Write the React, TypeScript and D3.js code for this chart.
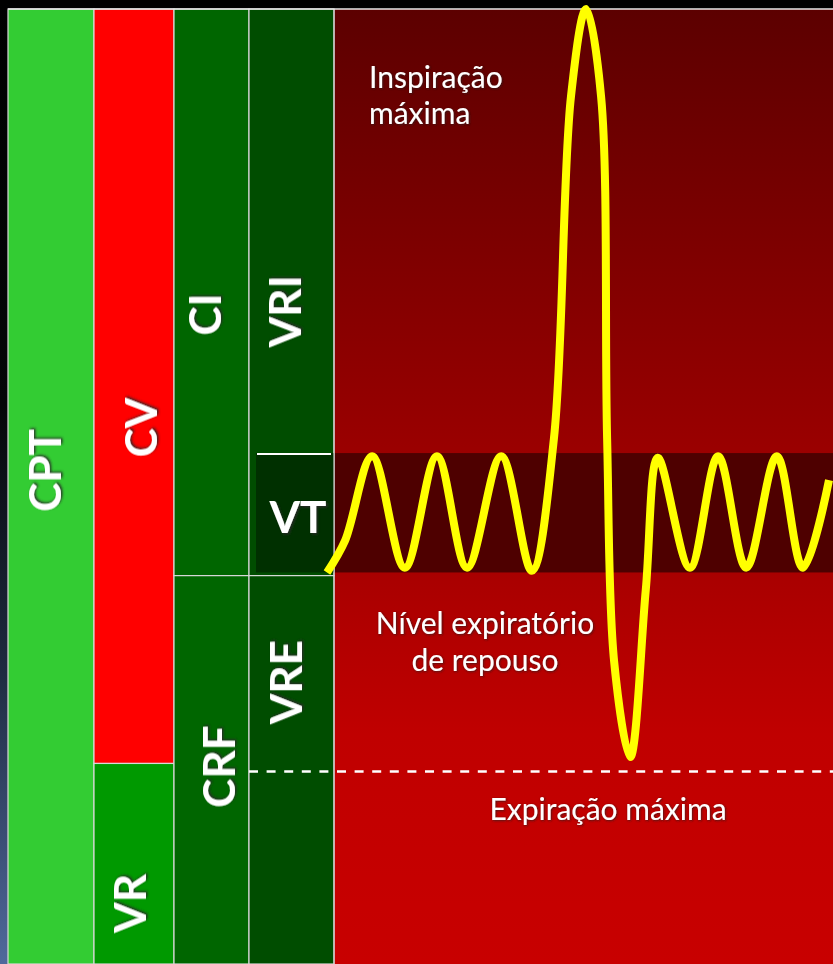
import * as d3 from 'd3';

// ---- data: lung volumes (litres) and the spirogram trace ----
const totalCapacity = 6.0; // CPT
const residualVolume = 1.26; // VR
const frcLevel = 2.44; // CRF
const expMaxLevel = 1.21; // dashed line, "Expiração máxima"
const tidalLow = 2.46;
const tidalHigh = 3.21;

const compartmentLabels = ['CPT', 'CV', 'VR', 'CI', 'CRF', 'VRI', 'VRE'];
const compartmentColumn = [0, 1, 1, 2, 2, 3, 3];
const compartmentFrom = [0, residualVolume, 0, frcLevel, 0, frcLevel, 0];
const compartmentTo = [totalCapacity, totalCapacity, residualVolume, totalCapacity, frcLevel, totalCapacity, frcLevel];

// time (arbitrary units 0..100) and volume (L)
const traceTime = [0, 3.6, 9.0, 15.5, 21.9, 27.9, 34.7, 40.8, 45.2, 48.6, 51.6, 54.6, 55.8, 57.2, 60.4, 63.5, 65.9, 72.3, 77.9, 83.5, 89.6, 94.8, 100];
const traceVolume = [2.46, 2.66, 3.19, 2.49, 3.19, 2.49, 3.19, 2.47, 3.3, 5.45, 6.0, 5.45, 3.3, 1.9, 1.3, 2.35, 3.18, 2.49, 3.19, 2.49, 3.19, 2.49, 3.04];

// ---- layout / style ----
const W = 833;
const H = 964;
const colEdges = [8, 94, 174, 249, 334];
const plotRight = 833;
const colors: Record<string, string> = {
    CPT: '#33cc33',
    CV: '#ff0000',
    VR: '#009900',
    CI: '#006600',
    CRF: '#006600',
    VRI: '#004d00',
    VRE: '#004d00',
};
// label centre, in litres, for each rotated label
const labelAt: Record<string, number> = {
    CPT: 3.1,
    CV: 3.37,
    VR: 0.38,
    CI: 4.08,
    CRF: 1.24,
    VRI: 4.1,
    VRE: 1.77,
};
const labelX: Record<string, number> = {
    CPT: 45, CV: 141, VR: 130, CI: 205, CRF: 219, VRI: 285, VRE: 286,
};

export default function App() {
    const y = d3.scaleLinear().domain([0, totalCapacity]).range([H, 9]);
    const x = d3.scaleLinear().domain([0, 100]).range([327, 829]);

    const line = d3
        .line<number>()
        .x((_, i) => x(traceTime[i]))
        .y((d) => y(d))
        .curve(d3.curveCatmullRom.alpha(0.5));

    const labelFont = 'Lato, "Open Sans", sans-serif';

    return (
        <svg
            width={W}
            height={H}
            style={{ position: 'absolute', left: 0, top: 0, display: 'block' }}
        >
            <defs>
                <linearGradient id="leftBg" x1="0" y1="0" x2="0" y2="1">
                    <stop offset="0%" stopColor="#000000" />
                    <stop offset="42%" stopColor="#050608" />
                    <stop offset="70%" stopColor="#1f2b42" />
                    <stop offset="100%" stopColor="#50699c" />
                </linearGradient>
                <linearGradient id="redBg" x1="0" y1="0" x2="0" y2="1">
                    <stop offset="0%" stopColor="#5c0000" />
                    <stop offset="46%" stopColor="#9a0000" />
                    <stop offset="60%" stopColor="#aa0000" />
                    <stop offset="76%" stopColor="#c00000" />
                    <stop offset="100%" stopColor="#c80000" />
                </linearGradient>
                <filter id="shadow" x="-20%" y="-20%" width="140%" height="140%">
                    <feDropShadow dx="1.5" dy="1.5" stdDeviation="1.3" floodColor="#2a2a2a" floodOpacity="0.9" />
                </filter>
                <filter id="glow" x="-10%" y="-20%" width="120%" height="140%">
                    <feDropShadow dx="0.8" dy="0.8" stdDeviation="1" floodColor="#222" floodOpacity="0.8" />
                </filter>
            </defs>

            <rect x={0} y={0} width={W} height={H} fill="#000" />
            <rect x={0} y={0} width={colEdges[0]} height={H} fill="url(#leftBg)" />

            {/* right panel */}
            <rect
                x={colEdges[4]}
                y={y(totalCapacity)}
                width={plotRight - colEdges[4]}
                height={y(0) - y(totalCapacity)}
                fill="url(#redBg)"
            />
            <rect
                x={colEdges[4]}
                y={y(tidalHigh)}
                width={plotRight - colEdges[4]}
                height={y(tidalLow) - y(tidalHigh)}
                fill="#4e0000"
            />

            {/* compartments */}
            {compartmentLabels.map((lab, i) => {
                const c = compartmentColumn[i];
                return (
                    <rect
                        key={lab}
                        x={colEdges[c]}
                        y={y(compartmentTo[i])}
                        width={colEdges[c + 1] - colEdges[c]}
                        height={y(compartmentFrom[i]) - y(compartmentTo[i])}
                        fill={colors[lab]}
                        stroke="#d8d8d8"
                        strokeWidth={1.2}
                    />
                );
            })}

            {/* VT box */}
            <rect
                x={256}
                y={y(tidalHigh)}
                width={colEdges[4] - 256}
                height={y(tidalLow) - y(tidalHigh)}
                fill="#003000"
            />
            <line
                x1={257}
                x2={331}
                y1={y(tidalHigh) + 1}
                y2={y(tidalHigh) + 1}
                stroke="#ffffff"
                strokeWidth={2}
            />

            {/* column line right of VRI/VRE */}
            <line x1={colEdges[4]} x2={colEdges[4]} y1={y(totalCapacity)} y2={H} stroke="#d0d0d0" strokeWidth={1.2} />

            {/* max expiration dashed line */}
            <line
                x1={colEdges[3]}
                x2={plotRight}
                y1={y(expMaxLevel)}
                y2={y(expMaxLevel)}
                stroke="#ffffff"
                strokeWidth={2.5}
                strokeDasharray="9 8.6"
            />

            {/* top frame line */}
            <line x1={colEdges[0]} x2={plotRight} y1={y(totalCapacity)} y2={y(totalCapacity)} stroke="#e8e8e8" strokeWidth={1.5} />

            {/* rotated labels */}
            {compartmentLabels.map((lab) => (
                <g key={'l' + lab} transform={`translate(${labelX[lab]},${y(labelAt[lab])}) rotate(-90)`}>
                    <text
                        x={0}
                        y={16}
                        textAnchor="middle"
                        fontFamily={labelFont}
                        fontWeight={700}
                        fontSize={44}
                        fill="#ffffff"
                        filter="url(#shadow)"
                    >
                        {lab}
                    </text>
                </g>
            ))}
            <text
                x={298}
                y={533}
                textAnchor="middle"
                fontFamily={labelFont}
                fontWeight={700}
                fontSize={44}
                fill="#ffffff"
                filter="url(#shadow)"
            >
                VT
            </text>

            {/* annotations */}
            <g fontFamily={labelFont} fontSize={30} fill="#ffffff" filter="url(#glow)">
                <text x={369} y={88}>Inspiração</text>
                <text x={369} y={124}>máxima</text>
                <text x={485} y={634} textAnchor="middle">Nível expiratório</text>
                <text x={485} y={671} textAnchor="middle">de repouso</text>
                <text x={608} y={820} textAnchor="middle">Expiração máxima</text>
            </g>

            {/* spirogram trace */}
            <path d={line(traceVolume) ?? ''} fill="none" stroke="#ffff00" strokeWidth={8} strokeLinejoin="round" />
        </svg>
    );
}
